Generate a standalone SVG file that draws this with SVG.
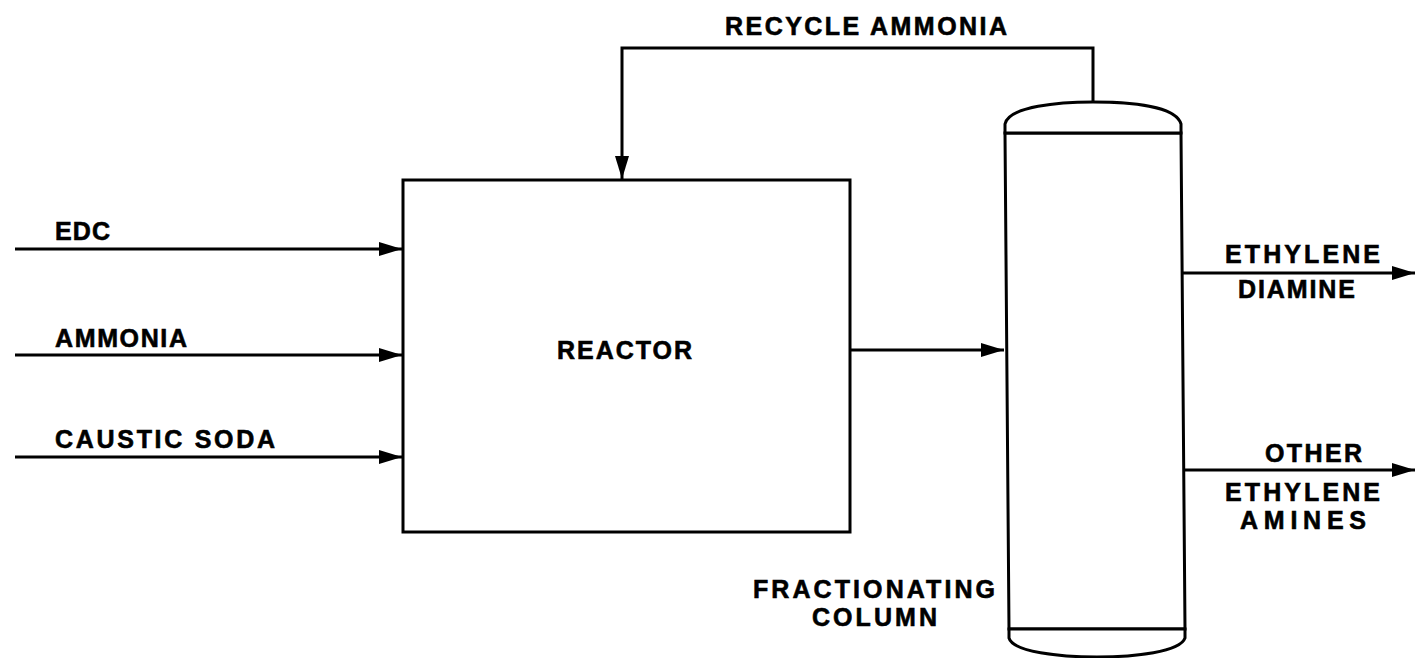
<svg xmlns="http://www.w3.org/2000/svg" width="1416" height="658" viewBox="0 0 1416 658">
<style>
.ln{fill:none;stroke:#000;stroke-width:3;stroke-linejoin:miter}
.shape{fill:#fff;stroke:#000;stroke-width:3}
.t{font-family:"Liberation Sans",Arial,sans-serif;font-weight:bold;font-size:25px;fill:#000;stroke:#000;stroke-width:0.6}
</style>
<defs>
<marker id="ah" markerUnits="userSpaceOnUse" markerWidth="26" markerHeight="18" refX="23" refY="9" orient="auto">
<path d="M0,2 L23,9 L0,16 Z" fill="#000"/>
</marker>
</defs>
<rect width="1416" height="658" fill="#fff"/>
<g id="reactor">
<rect class="shape" x="403" y="180" width="447" height="352"/>
<text class="t" x="557" y="359" textLength="135" lengthAdjust="spacing">REACTOR</text>
</g>
<g id="column">
<path class="shape" d="M1005,133 L1181,133 L1185,629 L1009,629 Z"/>
<path class="shape" d="M1005,133 L1005,124 C1009,106 1060,102 1093,102 C1130,102 1176,106 1181,124 L1181,133 Z"/>
<path class="shape" d="M1009,629 L1009,638 C1013,652 1060,657 1097,657 C1135,657 1180,652 1185,638 L1185,629 Z"/>
<text class="t" x="753" y="598" textLength="242" lengthAdjust="spacing">FRACTIONATING</text>
<text class="t" x="812" y="626" textLength="125" lengthAdjust="spacing">COLUMN</text>
</g>
<g id="connectors">
<line class="ln" x1="15" y1="249" x2="402" y2="249" marker-end="url(#ah)"/>
<line class="ln" x1="15" y1="355" x2="402" y2="355" marker-end="url(#ah)"/>
<line class="ln" x1="15" y1="457" x2="402" y2="457" marker-end="url(#ah)"/>
<line class="ln" x1="850" y1="350" x2="1004" y2="350" marker-end="url(#ah)"/>
<polyline class="ln" points="1093,102 1093,48 622,48 622,179" marker-end="url(#ah)"/>
<line class="ln" x1="1183" y1="273" x2="1415" y2="273" marker-end="url(#ah)"/>
<line class="ln" x1="1184" y1="470" x2="1415" y2="470" marker-end="url(#ah)"/>
</g>
<g id="labels">
<text class="t" x="55" y="240" textLength="55" lengthAdjust="spacing">EDC</text>
<text class="t" x="55" y="347" textLength="132" lengthAdjust="spacing">AMMONIA</text>
<text class="t" x="55" y="448" textLength="220" lengthAdjust="spacing">CAUSTIC SODA</text>
<text class="t" x="725" y="35" textLength="282" lengthAdjust="spacing">RECYCLE AMMONIA</text>
<text class="t" x="1225" y="263" textLength="155" lengthAdjust="spacing">ETHYLENE</text>
<text class="t" x="1238" y="298" textLength="117" lengthAdjust="spacing">DIAMINE</text>
<text class="t" x="1265" y="462" textLength="97" lengthAdjust="spacing">OTHER</text>
<text class="t" x="1225" y="501" textLength="155" lengthAdjust="spacing">ETHYLENE</text>
<text class="t" x="1240" y="529" textLength="126" lengthAdjust="spacing">AMINES</text>
</g>
</svg>
